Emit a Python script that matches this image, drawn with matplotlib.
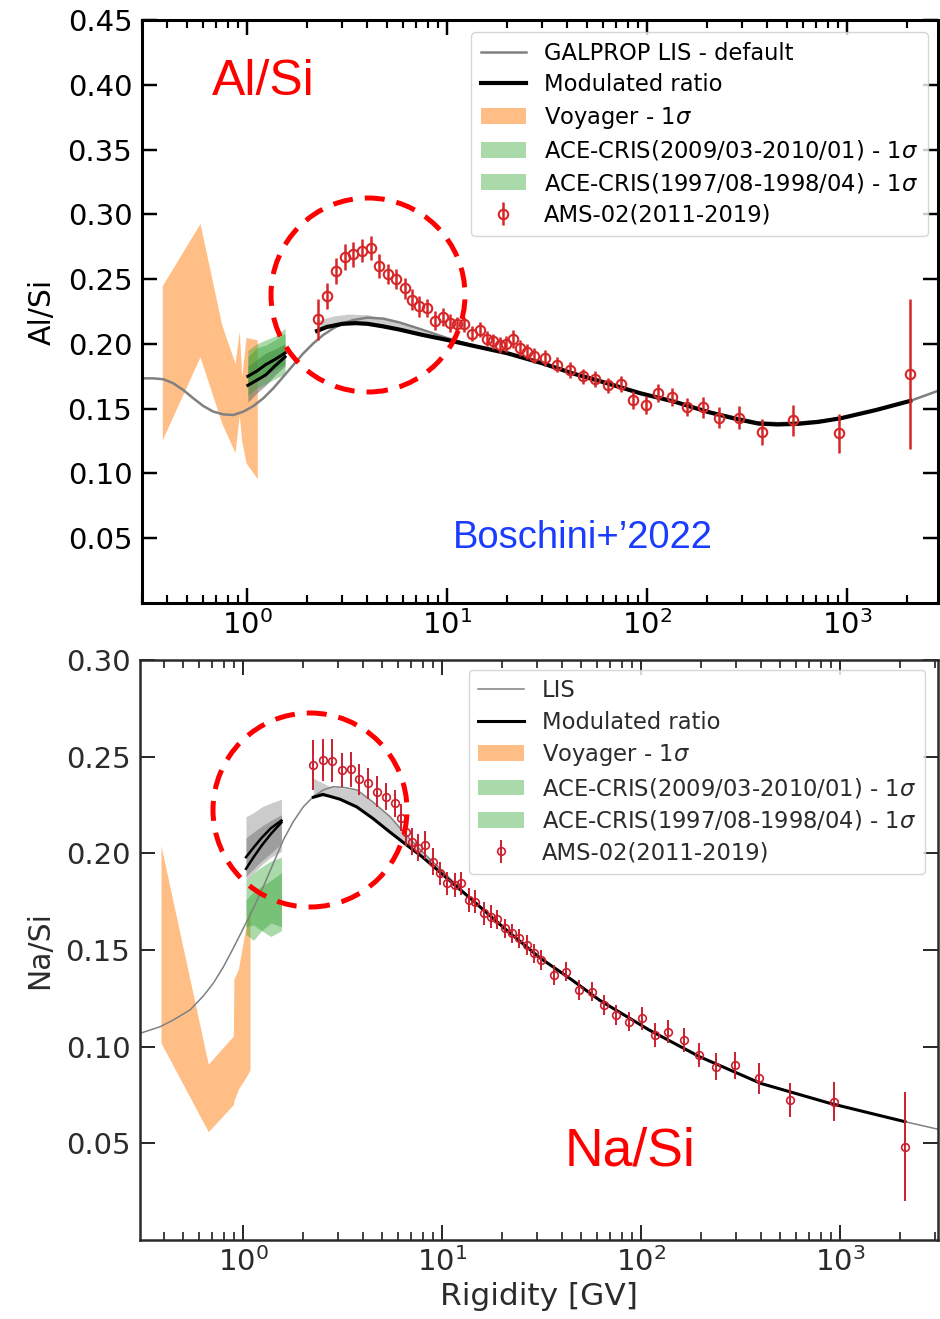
import numpy as np
import matplotlib
matplotlib.use('Agg')
import matplotlib.pyplot as plt
from matplotlib.patches import Ellipse, Patch
from matplotlib.lines import Line2D
from matplotlib.ticker import LogLocator, LogFormatterMathtext, NullFormatter, FixedLocator

# ------------------------- Al/Si (top panel) -------------------------
al_ams_R = [2.26, 2.51, 2.79, 3.08, 3.40, 3.76, 4.16, 4.59, 5.07, 5.58,
            6.15, 6.68, 7.27, 7.94, 8.71, 9.58, 10.4, 11.2, 12.2, 13.4,
            14.6, 15.8, 17.0, 18.4, 19.7, 21.5, 23.2, 25.2, 27.2, 30.9,
            35.5, 41.0, 47.9, 55.1, 63.8, 73.9, 85.1, 98.5, 114, 133,
            158, 190, 230, 288, 377, 539, 912, 2065]
al_ams_v = [0.219, 0.237, 0.256, 0.267, 0.269, 0.272, 0.274, 0.260, 0.254, 0.250,
            0.243, 0.234, 0.229, 0.228, 0.218, 0.221, 0.216, 0.215, 0.215, 0.208,
            0.211, 0.204, 0.202, 0.199, 0.200, 0.204, 0.197, 0.194, 0.191, 0.189,
            0.184, 0.180, 0.175, 0.173, 0.168, 0.169, 0.157, 0.153, 0.162, 0.159,
            0.151, 0.151, 0.143, 0.143, 0.132, 0.141, 0.131, 0.177]
al_ams_err = [0.016, 0.010, 0.010, 0.010, 0.010, 0.009, 0.009, 0.009, 0.008, 0.008,
              0.008, 0.008, 0.008, 0.007, 0.007, 0.007, 0.007, 0.006, 0.006, 0.006,
              0.006, 0.006, 0.006, 0.006, 0.006, 0.007, 0.006, 0.006, 0.006, 0.006,
              0.006, 0.006, 0.006, 0.006, 0.006, 0.006, 0.007, 0.007, 0.007, 0.007,
              0.007, 0.008, 0.008, 0.009, 0.010, 0.012, 0.015, 0.058]

al_lis_R = [0.2917, 0.34, 0.3815, 0.428, 0.48, 0.539, 0.605, 0.679, 0.761, 0.854, 0.958,
            1.075, 1.206, 1.353, 1.519, 1.704, 1.912, 2.145, 2.406, 2.70, 3.03, 3.40,
            4.0, 4.8, 5.8, 7.5, 10, 14, 20, 30, 42.5, 62, 92, 140, 200, 280, 355, 450,
            562, 720, 924, 1400, 2070, 3000]
al_lis_v = [0.1734, 0.1734, 0.1727, 0.1696, 0.1644, 0.158, 0.152, 0.1477, 0.1456, 0.1451,
            0.1477, 0.152, 0.158, 0.1657, 0.1747, 0.1837, 0.1927, 0.2004, 0.2069, 0.212,
            0.2159, 0.2184, 0.2203, 0.2195, 0.2165, 0.211, 0.2045, 0.198, 0.193, 0.185,
            0.1775, 0.170, 0.162, 0.155, 0.148, 0.143, 0.1395, 0.1388, 0.1392, 0.1405,
            0.1426, 0.149, 0.156, 0.165]

al_mod_R = [2.24, 2.5, 3.0, 3.5, 4.0, 4.8, 5.8, 7.5, 9.9, 14, 20, 30, 43, 62, 92,
            140, 200, 280, 360, 450, 570, 720, 930, 1400, 2070]
al_mod_v = [0.210, 0.213, 0.2155, 0.216, 0.2155, 0.2135, 0.211, 0.207, 0.2032, 0.198,
            0.1928, 0.185, 0.177, 0.170, 0.162, 0.155, 0.1476, 0.142, 0.1385, 0.1378,
            0.1383, 0.1398, 0.1426, 0.149, 0.156]

al_band_R = [2.24, 2.7, 3.2, 4.0, 5.0, 6.5, 8.5, 10.5]
al_band_hi = [0.218, 0.2215, 0.223, 0.2225, 0.219, 0.2135, 0.207, 0.2035]
al_band_lo = [0.210, 0.214, 0.2157, 0.2155, 0.2128, 0.209, 0.2055, 0.2025]

al_voy_R = [0.377, 0.582, 0.747, 0.871, 0.915, 0.941, 0.989, 1.126]
al_voy_hi = [0.245, 0.293, 0.215, 0.185, 0.210, 0.175, 0.205, 0.203]
al_voy_lo = [0.126, 0.190, 0.139, 0.116, 0.145, 0.125, 0.108, 0.096]

al_ace_R = [1.01, 1.12, 1.24, 1.38, 1.55]
al_ace1_hi = [0.195, 0.200, 0.203, 0.206, 0.212]
al_ace1_lo = [0.168, 0.172, 0.176, 0.180, 0.185]
al_ace2_hi = [0.190, 0.197, 0.199, 0.203, 0.208]
al_ace2_lo = [0.160, 0.166, 0.169, 0.173, 0.177]
al_gry_hi = [0.183, 0.188, 0.193, 0.196, 0.200]
al_gry_lo = [0.155, 0.162, 0.168, 0.176, 0.183]
al_acemod1 = [0.175, 0.179, 0.184, 0.188, 0.193]
al_acemod2 = [0.168, 0.172, 0.176, 0.183, 0.190]

# ------------------------- Na/Si (bottom panel) -------------------------
na_ams_R = [2.26, 2.53, 2.81, 3.13, 3.48, 3.84, 4.26, 4.73, 5.21, 5.81,
            6.22, 6.59, 7.07, 7.57, 8.18, 9.00, 9.77, 10.6, 11.6, 12.5,
            13.7, 14.6, 16.2, 17.6, 18.9, 20.7, 22.5, 24.5, 26.6, 28.9,
            31.3, 36.5, 42.2, 49.0, 56.6, 65.1, 75.2, 87.0, 101.7, 117.6,
            136.5, 163.8, 195.4, 237.3, 295.4, 389.9, 558.1, 936.4, 2121]
na_ams_v = [0.2457, 0.2483, 0.2479, 0.2431, 0.2435, 0.2383, 0.2362, 0.2319, 0.2293, 0.2259,
            0.2183, 0.2110, 0.2059, 0.2030, 0.2043, 0.1957, 0.1897, 0.1845, 0.1836, 0.1845,
            0.1759, 0.1750, 0.1690, 0.1672, 0.1659, 0.1612, 0.1586, 0.1561, 0.1526, 0.1483,
            0.1448, 0.1371, 0.1388, 0.1293, 0.1284, 0.1216, 0.1164, 0.1129, 0.1147, 0.1060,
            0.1077, 0.1034, 0.0957, 0.0896, 0.0905, 0.0836, 0.0724, 0.0715, 0.0483]
na_ams_err = [0.013, 0.011, 0.011, 0.009, 0.009, 0.008, 0.008, 0.008, 0.007, 0.007,
              0.007, 0.007, 0.007, 0.007, 0.007, 0.007, 0.006, 0.006, 0.006, 0.006,
              0.006, 0.006, 0.006, 0.006, 0.005, 0.005, 0.005, 0.005, 0.005, 0.005,
              0.005, 0.005, 0.005, 0.005, 0.005, 0.005, 0.005, 0.005, 0.006, 0.006,
              0.006, 0.006, 0.006, 0.007, 0.007, 0.008, 0.009, 0.010, 0.028]

na_lis_R = [0.3036, 0.383, 0.446, 0.5416, 0.6316, 0.709, 0.796, 0.894, 1.0035, 1.127,
            1.265, 1.42, 1.594, 1.789, 2.01, 2.256, 2.532, 2.843, 3.255, 3.74, 4.5, 5.48,
            6.6, 8.03, 10.97, 14.5, 20.7, 31, 45, 62, 110, 197, 400, 890, 2120, 3200]
na_lis_v = [0.1069, 0.1103, 0.1138, 0.119, 0.1262, 0.1328, 0.1412, 0.1510, 0.1612, 0.1716,
            0.1828, 0.1948, 0.2069, 0.2164, 0.2241, 0.2293, 0.2328, 0.2345, 0.234, 0.2328,
            0.2265, 0.219, 0.2095, 0.2005, 0.187, 0.175, 0.161, 0.146, 0.1345, 0.124,
            0.1086, 0.0948, 0.081, 0.0707, 0.0612, 0.057]

na_mod_R = [2.256, 2.52, 3.07, 3.73, 4.5, 5.47, 6.6, 8.0, 10.9, 14.5, 20.7, 31, 45, 62,
            110, 197, 400, 890, 2120]
na_mod_v = [0.229, 0.2305, 0.228, 0.224, 0.218, 0.211, 0.2045, 0.198, 0.186, 0.175,
            0.161, 0.146, 0.1345, 0.124, 0.1086, 0.0948, 0.081, 0.0707, 0.0612]

na_band_R = [2.256, 2.74, 3.73, 5.48, 8.03, 10.9]
na_band_hi = [0.2388, 0.2345, 0.2328, 0.219, 0.2005, 0.187]
na_band_lo = [0.229, 0.2295, 0.224, 0.211, 0.198, 0.186]

na_voy_R = [0.387, 0.669, 0.894, 0.90, 0.947, 1.047, 1.084]
na_voy_hi = [0.204, 0.091, 0.1055, 0.135, 0.140, 0.165, 0.172]
na_voy_lo = [0.102, 0.056, 0.070, 0.072, 0.078, 0.085, 0.088]

na_ace_R = [1.035, 1.13, 1.24, 1.38, 1.56]
na_ace1_hi = [0.186, 0.190, 0.193, 0.196, 0.198]
na_ace1_lo = [0.162, 0.163, 0.160, 0.164, 0.162]
na_ace2_hi = [0.176, 0.180, 0.183, 0.186, 0.190]
na_ace2_lo = [0.158, 0.155, 0.160, 0.157, 0.160]
na_gry1_hi = [0.219, 0.221, 0.224, 0.226, 0.228]
na_gry1_lo = [0.186, 0.190, 0.194, 0.198, 0.201]
na_gry2_hi = [0.208, 0.211, 0.214, 0.217, 0.220]
na_gry2_lo = [0.188, 0.192, 0.196, 0.200, 0.205]
na_acemod1 = [0.198, 0.203, 0.208, 0.213, 0.217]
na_acemod2 = [0.192, 0.198, 0.204, 0.210, 0.216]

labels_top = ['GALPROP LIS - default', 'Modulated ratio', r'Voyager - 1$\sigma$',
              r'ACE-CRIS(2009/03-2010/01) - 1$\sigma$', r'ACE-CRIS(1997/08-1998/04) - 1$\sigma$',
              'AMS-02(2011-2019)']
labels_bot = ['LIS', 'Modulated ratio', r'Voyager - 1$\sigma$',
              r'ACE-CRIS(2009/03-2010/01) - 1$\sigma$', r'ACE-CRIS(1997/08-1998/04) - 1$\sigma$',
              'AMS-02(2011-2019)']
yticks_top = [0.05, 0.10, 0.15, 0.20, 0.25, 0.30, 0.35, 0.40, 0.45]
yticks_bot = [0.05, 0.10, 0.15, 0.20, 0.25, 0.30]

W, H = 940, 1319
fig = plt.figure(figsize=(W / 100, H / 100), dpi=100)
ax1 = fig.add_axes([142 / W, 1 - 603 / H, (938 - 142) / W, (603 - 20) / H])
ax2 = fig.add_axes([140 / W, 1 - 1240 / H, (938 - 140) / W, (1240 - 660) / H])

ORANGE = '#ff7f0e'
GREEN = '#2ca02c'


def style_axis(ax, xlim, ylim, yticks, color, lw, fs):
    ax.set_xscale('log')
    ax.set_xlim(*xlim)
    ax.set_ylim(*ylim)
    ax.xaxis.set_major_locator(FixedLocator([1, 10, 100, 1000]))
    ax.xaxis.set_major_formatter(LogFormatterMathtext())
    ax.xaxis.set_minor_locator(LogLocator(base=10, subs=np.arange(2, 10), numticks=20))
    ax.xaxis.set_minor_formatter(NullFormatter())
    ax.set_yticks(yticks)
    ax.set_yticklabels(['%.2f' % t for t in yticks])
    ax.tick_params(which='both', direction='in', top=True, right=True, colors=color,
                   labelcolor=color, labelsize=fs)
    ax.tick_params(which='major', length=11, width=lw * 0.8, pad=7)
    ax.tick_params(axis='x', which='major', pad=5)
    ax.tick_params(which='minor', length=5.5, width=lw * 0.7)
    for s in ax.spines.values():
        s.set_linewidth(lw)
        s.set_color(color)


LEG_KW = dict(loc='upper right', borderaxespad=0, fontsize=16.3, handlelength=2.0,
              handletextpad=0.8, borderpad=0.42, labelspacing=0.37)

# ---------------- top panel ----------------
style_axis(ax1, (0.2985, 2851), (0.0, 0.45), yticks_top, 'black', 2.2, 21)
ax1.fill_between(al_voy_R, al_voy_lo, al_voy_hi, color=ORANGE, alpha=0.5, lw=0)
ax1.fill_between(al_ace_R, al_gry_lo, al_gry_hi, color='0.45', alpha=0.6, lw=0)
ax1.fill_between(al_ace_R, al_ace1_lo, al_ace1_hi, color=GREEN, alpha=0.4, lw=0)
ax1.fill_between(al_ace_R, al_ace2_lo, al_ace2_hi, color=GREEN, alpha=0.4, lw=0)
ax1.plot(al_ace_R, al_acemod1, color='black', lw=2.2)
ax1.plot(al_ace_R, al_acemod2, color='black', lw=2.2)
ax1.fill_between(al_band_R, al_band_lo, al_band_hi, color='0.8', lw=0)
ax1.plot(al_lis_R, al_lis_v, color='gray', lw=1.8)
ax1.plot(al_mod_R, al_mod_v, color='black', lw=3)
eb1 = ax1.errorbar(al_ams_R, al_ams_v, yerr=al_ams_err, fmt='o', mfc='none', mec='#d62728',
                   ecolor='#d62728', ms=6.8, mew=1.5, elinewidth=1.8, capsize=0)
ax1.set_ylabel('Al/Si', fontsize=21.5, labelpad=8)
handles1 = [Line2D([], [], color='gray', lw=1.8), Line2D([], [], color='black', lw=3),
            Patch(facecolor=ORANGE, alpha=0.5, lw=0), Patch(facecolor=GREEN, alpha=0.4, lw=0),
            Patch(facecolor=GREEN, alpha=0.4, lw=0), eb1]
ax1.legend(handles1, labels_top, bbox_to_anchor=(0.987, 0.979), **LEG_KW)
ax1.text(0.152, 0.894, 'Al/Si', transform=ax1.transAxes, color='red', fontsize=36,
         family='Liberation Sans', ha='center', va='center')
ax1.text(0.554, 0.111, 'Boschini+\u20192022', transform=ax1.transAxes, color='#1a3cff',
         fontsize=27.5, family='Liberation Sans', ha='center', va='center')

# ---------------- bottom panel ----------------
BCOL = '#2b2b2b'
style_axis(ax2, (0.3036, 3108), (0.0, 0.30), yticks_bot, BCOL, 1.8, 21)
ax2.fill_between(na_voy_R, na_voy_lo, na_voy_hi, color=ORANGE, alpha=0.5, lw=0)
ax2.fill_between(na_ace_R, na_gry1_lo, na_gry1_hi, color='0.6', alpha=0.5, lw=0)
ax2.fill_between(na_ace_R, na_gry2_lo, na_gry2_hi, color='0.45', alpha=0.5, lw=0)
ax2.fill_between(na_ace_R, na_ace1_lo, na_ace1_hi, color=GREEN, alpha=0.4, lw=0)
ax2.fill_between(na_ace_R, na_ace2_lo, na_ace2_hi, color=GREEN, alpha=0.4, lw=0)
ax2.plot(na_ace_R, na_acemod1, color='black', lw=1.8)
ax2.plot(na_ace_R, na_acemod2, color='black', lw=1.8)
ax2.fill_between(na_band_R, na_band_lo, na_band_hi, color='0.8', lw=0)
ax2.plot(na_lis_R, na_lis_v, color='gray', lw=1.1)
ax2.plot(na_mod_R, na_mod_v, color='black', lw=2.2)
eb2 = ax2.errorbar(na_ams_R, na_ams_v, yerr=na_ams_err, fmt='o', mfc='none', mec='#cc1f2e',
                   ecolor='#cc1f2e', ms=5.5, mew=1.2, elinewidth=1.4, capsize=0)
ax2.set_ylabel('Na/Si', fontsize=21.5, labelpad=8, color=BCOL)
ax2.set_xlabel('Rigidity [GV]', fontsize=22.5, color=BCOL, labelpad=4)
handles2 = [Line2D([], [], color='gray', lw=1.1), Line2D([], [], color='black', lw=2.2),
            Patch(facecolor=ORANGE, alpha=0.5, lw=0), Patch(facecolor=GREEN, alpha=0.4, lw=0),
            Patch(facecolor=GREEN, alpha=0.4, lw=0), eb2]
leg2 = ax2.legend(handles2, labels_bot, bbox_to_anchor=(0.984, 0.983), **LEG_KW)
for t in leg2.get_texts():
    t.set_color(BCOL)
ax2.text(0.614, 0.152, 'Na/Si', transform=ax2.transAxes, color='red', fontsize=38.5,
         family='Liberation Sans', ha='center', va='center')

# ---------------- dashed highlight circles ----------------
for cx, cy in [(368, 295), (310, 810)]:
    e = Ellipse((cx / W, 1 - cy / H), 194 / W, 194 / H, transform=fig.transFigure,
                fill=False, edgecolor='red', lw=3.6, linestyle=(0, (4, 2.4)))
    fig.patches.append(e)

fig.savefig('out.png', dpi=100)
